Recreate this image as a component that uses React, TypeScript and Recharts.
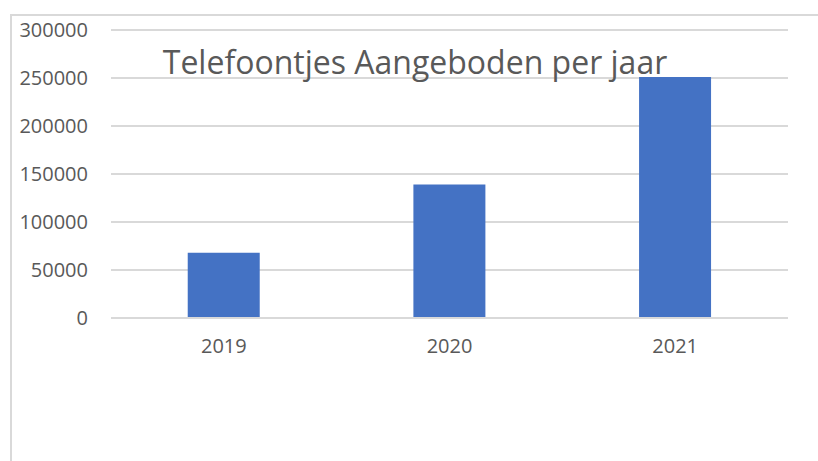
import React from "react";
import { BarChart, Bar, XAxis, YAxis, CartesianGrid } from "recharts";

const years = ["2019", "2020", "2021"];
const aangeboden = [68000, 139000, 251000];
const yTicks = [0, 50000, 100000, 150000, 200000, 250000, 300000];
const title = "Telefoontjes Aangeboden per jaar";

const data = years.map((y, i) => ({ year: y, value: aangeboden[i] }));

const FONT = "'Open Sans', sans-serif";

export default function App() {
  return (
    <div style={{ position: "fixed", left: 0, top: 0, width: 818, height: 461, background: "#fff", overflow: "hidden" }}>
      <div
        style={{
          position: "absolute",
          left: 10,
          top: 14,
          width: 900,
          height: 600,
          border: "2px solid #d9d9d9",
          boxSizing: "border-box",
        }}
      />
      <div style={{ position: "absolute", left: 0, top: 0 }}>
        <BarChart
          width={818}
          height={461}
          data={data}
          margin={{ top: 30, right: 30, left: 11, bottom: 113 }}
          barCategoryGap="34%"
        >
          <CartesianGrid vertical={false} stroke="#d9d9d9" strokeWidth={2} />
          <XAxis
            dataKey="year"
            axisLine={{ stroke: "#d9d9d9", strokeWidth: 2 }}
            tickLine={false}
            tickSize={0}
            tickMargin={21}
            height={30}
            tick={{ fill: "#595959", fontSize: 20, fontFamily: FONT }}
          />
          <YAxis
            width={100}
            domain={[0, 300000]}
            ticks={yTicks}
            axisLine={false}
            tickLine={false}
            tickSize={0}
            tickMargin={23}
            tick={{ fill: "#595959", fontSize: 20, fontFamily: FONT }}
          />
          <Bar dataKey="value" fill="#4472c4" isAnimationActive={false} />
        </BarChart>
      </div>
      <div
        style={{
          position: "absolute",
          left: 0,
          width: 830,
          top: 42,
          textAlign: "center",
          fontFamily: FONT,
          fontSize: 32,
          color: "#595959",
          lineHeight: "40px",
          whiteSpace: "nowrap",
        }}
      >
        {title}
      </div>
    </div>
  );
}
